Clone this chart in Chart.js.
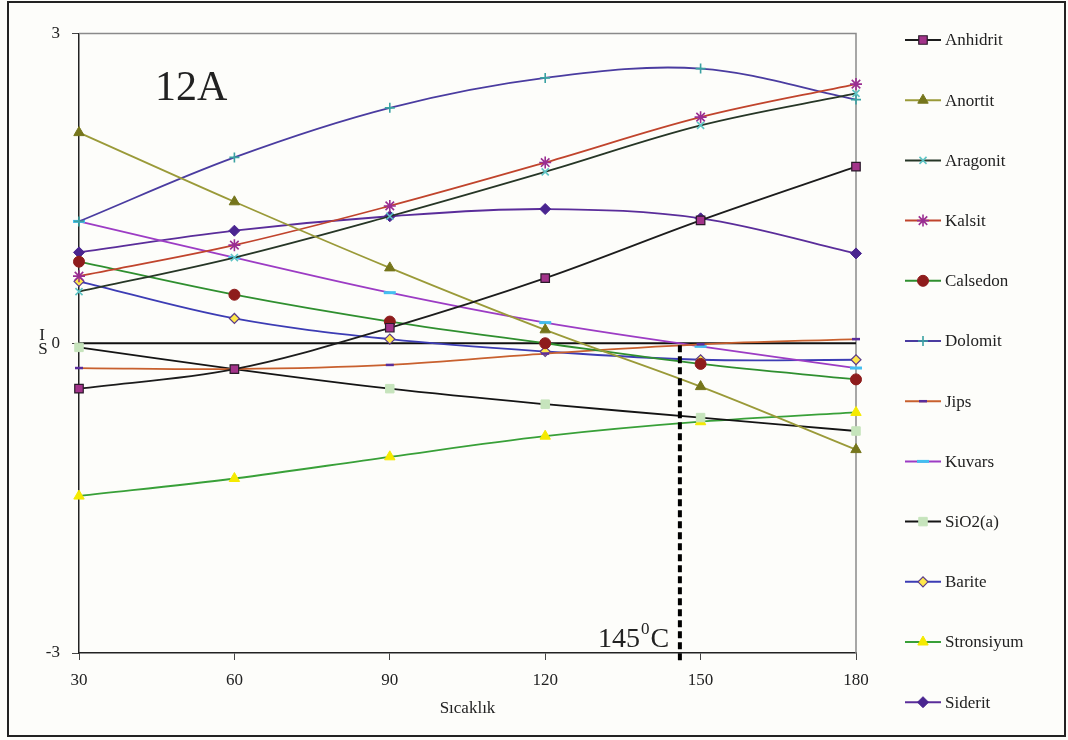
<!DOCTYPE html>
<html>
<head>
<meta charset="utf-8">
<script src="https://cdn.jsdelivr.net/npm/chart.js@4.4.1/dist/chart.umd.min.js"></script>
<style>
  body { margin: 0; background: #fff; }
  #wrap { width: 1068px; height: 740px; position: relative; }
</style>
</head>
<body>
<div id="wrap"><canvas id="chart"></canvas></div>
<script>
// Doygunluk indeksleri (SI) - sicakliga gore, sekil 12A
const temps = [30, 60, 90, 120, 150, 180];
const yTicks = [-3, 0, 3];

const anhidrit   = [-0.44, -0.25, 0.15, 0.63, 1.19, 1.71];
const anortit    = [2.04, 1.37, 0.73, 0.13, -0.42, -1.03];
const aragonit   = [0.50, 0.83, 1.23, 1.66, 2.11, 2.42];
const kalsit     = [0.65, 0.95, 1.33, 1.75, 2.19, 2.51];
const calsedon   = [0.79, 0.47, 0.21, 0.00, -0.20, -0.35];
const dolomit    = [1.18, 1.80, 2.28, 2.57, 2.66, 2.36];
const jips       = [-0.24, -0.25, -0.21, -0.10, -0.01, 0.04];
const kuvars     = [1.18, 0.83, 0.49, 0.20, -0.03, -0.24];
const sio2a      = [-0.04, -0.25, -0.44, -0.59, -0.72, -0.85];
const barite     = [0.60, 0.24, 0.04, -0.08, -0.16, -0.16];
const stronsiyum = [-1.48, -1.31, -1.10, -0.90, -0.76, -0.67];
const siderit    = [0.88, 1.09, 1.23, 1.30, 1.21, 0.87];

const markerTemp = 146;   // kesikli cizgi (145 C)

const serif = '"Liberation Serif", "DejaVu Serif", serif';

function series(label, values, line, style, fill, border, radius, bw) {
    return {
        label: label,
        data: values.map((v, i) => ({ x: temps[i], y: v })),
        borderColor: line,
        borderWidth: 1.8,
        tension: 0.35,
        clip: false,
        pointStyle: style,
        pointRadius: radius,
        pointBackgroundColor: fill,
        pointBorderColor: border,
        pointBorderWidth: bw,
        fill: false
    };
}

const datasets = [
    series('Anhidrit', anhidrit, '#1c1c1c', 'rect', '#a3338a', '#2a1a2a', 6, 1.2),
    series('Anortit', anortit, '#9a9a38', 'triangle', '#76761c', '#76761c', 6, 1),
    series('Aragonit', aragonit, '#263626', 'crossRot', '#5ec4c4', '#5ec4c4', 5, 1.6),
    series('Kalsit', kalsit, '#c0442c', 'star', '#9a2e92', '#9a2e92', 6, 1.6),
    series('Calsedon', calsedon, '#2f8f2f', 'circle', '#8e1c1c', '#8e1c1c', 5.5, 1),
    series('Dolomit', dolomit, '#4a3ca0', 'cross', '#3aa2a2', '#3aa2a2', 5, 1.6),
    series('Jips', jips, '#c8602e', 'line', '#5a2d9c', '#5a2d9c', 4, 2.5),
    series('Kuvars', kuvars, '#9c3cc4', 'line', '#44bff0', '#44bff0', 6, 3),
    series('SiO2(a)', sio2a, '#141414', 'rect', '#c6e4bc', '#c6e4bc', 6, 1),
    series('Barite', barite, '#3c3cb4', 'rectRot', '#ffe84a', '#5a3a8a', 5, 1.2),
    series('Stronsiyum', stronsiyum, '#38a038', 'triangle', '#f5ea00', '#f5ea00', 6, 1),
    series('Siderit', siderit, '#5a2d9a', 'rectRot', '#4a2590', '#4a2590', 5.5, 1)
];

const decor = {
    id: 'decor',
    beforeDraw(chart) {
        const ctx = chart.ctx;
        ctx.save();
        ctx.fillStyle = '#fdfdfa';
        ctx.fillRect(0, 0, chart.width, chart.height);
        ctx.strokeStyle = '#222';
        ctx.lineWidth = 2;
        ctx.strokeRect(8, 2, 1057, 734);
        ctx.restore();
    },
    beforeDatasetsDraw(chart) {
        const ctx = chart.ctx;
        const a = chart.chartArea;
        const ys = chart.scales.y;
        ctx.save();
        // plot box (top/right grey)
        ctx.strokeStyle = '#8a8a8a';
        ctx.lineWidth = 1.5;
        ctx.beginPath();
        ctx.moveTo(a.left, a.top);
        ctx.lineTo(a.right, a.top);
        ctx.lineTo(a.right, a.bottom);
        ctx.stroke();
        // zero line
        const y0 = ys.getPixelForValue(0);
        ctx.strokeStyle = '#111';
        ctx.lineWidth = 2;
        ctx.beginPath();
        ctx.moveTo(a.left, y0);
        ctx.lineTo(a.right, y0);
        ctx.stroke();
        ctx.restore();
    },
    afterDatasetsDraw(chart) {
        const ctx = chart.ctx;
        const a = chart.chartArea;
        const xs = chart.scales.x;
        const ys = chart.scales.y;
        ctx.save();
        // 145 C dashed line
        const xm = xs.getPixelForValue(markerTemp);
        ctx.strokeStyle = '#000';
        ctx.lineWidth = 4;
        ctx.setLineDash([7, 4]);
        ctx.beginPath();
        ctx.moveTo(xm, ys.getPixelForValue(0) + 2);
        ctx.lineTo(xm, a.bottom + 10);
        ctx.stroke();
        ctx.setLineDash([]);

        // 145 0C label
        ctx.fillStyle = '#222';
        ctx.textBaseline = 'alphabetic';
        ctx.textAlign = 'left';
        ctx.font = '28px ' + serif;
        let tx = 598;
        ctx.fillText('145', tx, 647);
        tx += ctx.measureText('145').width + 1;
        ctx.font = '17px ' + serif;
        ctx.fillText('0', tx, 634);
        tx += ctx.measureText('0').width + 1;
        ctx.font = '28px ' + serif;
        ctx.fillText('C', tx, 647);

        // panel label
        ctx.font = '42px ' + serif;
        ctx.fillText('12A', 155, 100);

        // broken y-axis title
        ctx.font = '17px ' + serif;
        ctx.textAlign = 'center';
        ctx.textBaseline = 'middle';
        ctx.fillText('I', 42, 336);
        ctx.fillText('S', 43, 350);

        // legend
        const H = Chart.helpers;
        chart.data.datasets.forEach((ds, i) => {
            const ly = 40 + i * 60.2;
            ctx.strokeStyle = ds.borderColor;
            ctx.lineWidth = 2;
            ctx.beginPath();
            ctx.moveTo(905, ly);
            ctx.lineTo(941, ly);
            ctx.stroke();
            ctx.fillStyle = ds.pointBackgroundColor;
            ctx.strokeStyle = ds.pointBorderColor;
            ctx.lineWidth = ds.pointBorderWidth;
            H.drawPoint(ctx, {
                pointStyle: ds.pointStyle,
                rotation: 0,
                radius: ds.pointRadius,
                borderWidth: ds.pointBorderWidth
            }, 923, ly);
            ctx.fillStyle = '#222';
            ctx.font = '17px ' + serif;
            ctx.textAlign = 'left';
            ctx.textBaseline = 'middle';
            ctx.fillText(ds.label, 945, ly + 1);
        });
        ctx.restore();
    }
};

const ctx = document.getElementById('chart').getContext('2d');
new Chart(ctx, {
    type: 'line',
    data: { datasets: datasets },
    options: {
        responsive: true,
        maintainAspectRatio: false,
        animation: false,
        layout: { padding: { top: 33.5, right: 212, bottom: 0, left: 0 } },
        plugins: {
            legend: { display: false },
            tooltip: { enabled: false }
        },
        scales: {
            x: {
                type: 'linear',
                min: 30,
                max: 180,
                afterFit(scale) { scale.height = 87; },
                ticks: {
                    stepSize: 30,
                    color: '#222',
                    padding: 10,
                    font: { family: serif, size: 17 }
                },
                grid: { drawOnChartArea: false, drawTicks: true, tickLength: 7, color: '#444' },
                border: { display: true, color: '#222', width: 1.5 },
                title: {
                    display: true,
                    text: 'Sıcaklık',
                    color: '#222',
                    font: { family: serif, size: 17 },
                    padding: { top: 0, bottom: 21 }
                }
            },
            y: {
                min: -3,
                max: 3,
                afterFit(scale) { scale.width = 79; },
                afterBuildTicks(scale) { scale.ticks = yTicks.map(v => ({ value: v })); },
                ticks: {
                    color: '#222',
                    padding: 12,
                    font: { family: serif, size: 17 }
                },
                grid: { drawOnChartArea: false, drawTicks: true, tickLength: 7, color: '#444' },
                border: { display: true, color: '#222', width: 1.5 }
            }
        }
    },
    plugins: [decor]
});
</script>
</body>
</html>
